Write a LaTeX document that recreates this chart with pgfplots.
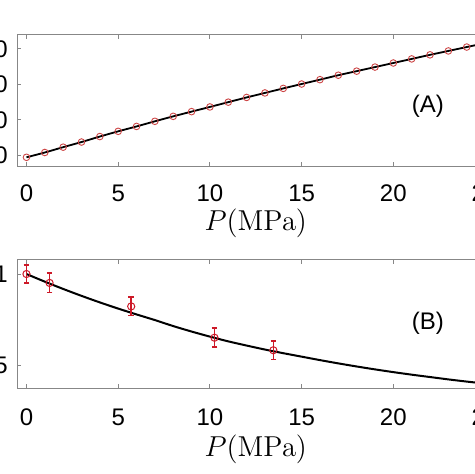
\documentclass[border=0pt]{standalone}
\usepackage[no-math]{fontspec}
\setmainfont{Liberation Sans}
\usepackage{pgfplots}
\pgfplotsset{compat=1.18}
\definecolor{mkred}{RGB}{205,70,70}
\definecolor{ebred}{RGB}{205,25,40}
\definecolor{axgray}{RGB}{135,135,135}

\pgfplotsset{
  panel/.style={
    scale only axis,
    width=238.45pt,
    xmin=-0.5, xmax=25.5,
    xtick={0,5,10,15,20,25},
    tick align=inside,
    major tick length=2pt,
    axis line style={draw=axgray, line width=0.5pt},
    every tick/.style={draw=axgray, line width=0.5pt},
    tick label style={font=\fontsize{12}{14}\selectfont},
    /pgf/number format/assume math mode=true,
    yticklabel style={xshift=-1.2pt},
    xlabel={$P(\mathrm{MPa})$},
    label style={font=\fontsize{14}{16}\selectfont},
    anchor=south west,
  },
}

\begin{document}
\begin{tikzpicture}
% panel (A)
\begin{axis}[panel,
    at={(8.65pt,153.75pt)},
    height=65.75pt,
    ymin=6.85, ymax=43.95,
    ytick={10,20,30,40},
    xticklabel style={yshift=-5.8pt},
    xlabel style={at={(axis description cs:0.5,-0.43)}, anchor=center},
]
\addplot[black, line width=0.9pt, smooth] coordinates {
  (0,9.44) (1,10.8) (2,12.3) (3,13.75) (4,15.3) (5,16.77) (6,18.15)
  (7,19.6) (8,21.0) (9,22.33) (10,23.65) (11,25.0) (12,26.33) (13,27.6)
  (14,28.88) (15,30.12) (16,31.35) (17,32.6) (18,33.75) (19,34.9)
  (20,36.05) (21,37.2) (22,38.35) (23,39.45) (24,40.55) (25,41.65)
};
\addplot[only marks, mark=o, mark size=1.65pt, mkred, mark options={line width=0.45pt}] coordinates {
  (0,9.44) (1,10.8) (2,12.3) (3,13.75) (4,15.3) (5,16.77) (6,18.15)
  (7,19.6) (8,21.0) (9,22.33) (10,23.65) (11,25.0) (12,26.33) (13,27.6)
  (14,28.88) (15,30.12) (16,31.35) (17,32.6) (18,33.75) (19,34.9)
  (20,36.05) (21,37.2) (22,38.35) (23,39.45) (24,40.55) (25,41.65)
};
\node[font=\fontsize{12}{14}\selectfont] at (axis cs:21.88,23.9) {(A)};
\end{axis}

% panel (B)
\begin{axis}[panel,
    at={(8.65pt,42.75pt)},
    height=64.4pt,
    ymin=0.371, ymax=1.0786,
    ytick={0.5,1},
    xticklabel style={yshift=-6.8pt},
    xlabel style={at={(axis description cs:0.5,-0.47)}, anchor=center},
]
\addplot[black, line width=1pt, smooth] coordinates {
  (0,1.000) (1,0.958) (2,0.918) (3,0.880) (4,0.844) (5,0.810) (6,0.778)
  (7,0.747) (8,0.714) (9,0.684) (10,0.656) (11,0.630) (12,0.607)
  (13,0.585) (14,0.565) (15,0.546) (16,0.527) (17,0.509) (18,0.492)
  (19,0.476) (20,0.461) (21,0.447) (22,0.434) (23,0.421) (24,0.409)
  (25,0.398) (25.5,0.392)
};
\addplot[only marks, mark=o, mark size=1.8pt, ebred,
    mark options={line width=0.5pt},
    error bars/.cd, y dir=both, y explicit,
    error bar style={ebred, line width=0.8pt},
    error mark options={rotate=90, mark size=1.4pt, line width=0.8pt, ebred}]
  coordinates {
  (0,1.000) +- (0,0.049)
  (1.26,0.951) +- (0,0.053)
  (5.71,0.822) +- (0,0.051)
  (10.25,0.650) +- (0,0.052)
  (13.46,0.581) +- (0,0.050)
};
\node[font=\fontsize{12}{14}\selectfont] at (axis cs:21.88,0.730) {(B)};
\end{axis}

\pgfresetboundingbox
\path (0pt,0pt) rectangle (237pt,237pt);
\end{tikzpicture}
\end{document}
